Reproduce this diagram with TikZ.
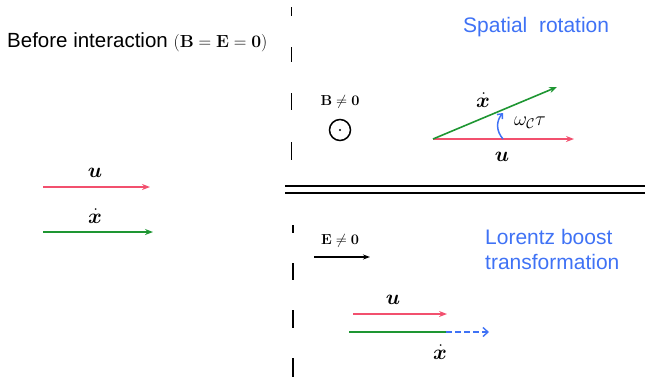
\RequirePackage{fix-cm}
\documentclass[tikz,border=0pt]{standalone}
\usepackage{amsmath,bm}
\usepackage[no-math]{fontspec}
\setmainfont{Liberation Sans}
\usetikzlibrary{arrows.meta}
\definecolor{vred}{HTML}{F2506E}
\definecolor{vgreen}{HTML}{1E9632}
\definecolor{vblue}{HTML}{3F72F5}
\tikzset{
  vec/.style={line width=1.6pt,-{Stealth[length=8pt,width=6pt]}},
  lbl/.style={inner sep=0pt,font=\fontsize{21}{24}\selectfont},
  ttl/.style={inner sep=0pt,anchor=west,text=vblue,font=\fontsize{21}{24}\selectfont},
  wall/.style={line width=1.8pt}
}
\begin{document}
\begin{tikzpicture}[x=1pt,y=-1pt]
\useasboundingbox (0,0) rectangle (645,381);
% texts
\node[inner sep=0pt,anchor=west,font=\fontsize{20.5}{23}\selectfont] (before) at (7,42) {Before interaction {\fontsize{17.5}{20}\selectfont$(\mathbf{B}=\mathbf{E}=\mathbf{0})$}};
\node[ttl] (spatial) at (463,27) {Spatial\ \ rotation};
\node[ttl] (lor1) at (485,237) {Lorentz boost};
\node[ttl] (lor2) at (485,262) {transformation};
% dashed wall
\foreach \a/\b in {7/16,47/62,93/110,142/160}
  \draw[wall] (291.5,\a) -- (291.5,\b);
\foreach \a/\b in {225/233,263/280,310/328,358/377}
  \draw[wall] (293,\a) -- (293,\b);
% double line
\coordinate (dl1) at (285,186);
\coordinate (dl2) at (645,186);
\coordinate (dl3) at (285,193);
\coordinate (dl4) at (645,193);
\draw[line width=1.6pt] (dl1) -- (dl2);
\draw[line width=1.6pt] (dl3) -- (dl4);
% left arrows
\coordinate (lu0) at (43,187); \coordinate (lu1) at (150,187);
\coordinate (lx0) at (43,232); \coordinate (lx1) at (153,232);
\draw[vec,vred] (lu0) -- (lu1);
\draw[vec,vgreen] (lx0) -- (lx1);
\node[lbl] (lul) at (95,173) {$\bm{u}$};
\node[lbl] (lxl) at (95,216) {$\dot{\bm{x}}$};
% B field
\node[inner sep=0pt,font=\fontsize{14.5}{17}\selectfont] (bne) at (340,102) {$\mathbf{B}\neq\mathbf{0}$};
\node[circle,draw,line width=1.5pt,minimum size=21pt,inner sep=0pt] (bdot) at (340,130) {};
\fill (bdot.center) circle (1.1pt);
% rotation
\coordinate (o) at (433,139);
\coordinate (ru) at (574,139);
\coordinate (rx) at (557,87);
\draw[vec,vred] (o) -- (ru);
\draw[vec,vgreen] (o) -- (rx);
\node[lbl] (rxl) at (483,100) {$\dot{\bm{x}}$};
\node[lbl] (rul) at (502,157) {$\bm{u}$};
\coordinate (a0) at (503,139);
\coordinate (a1) at (503,113);
\draw[vblue,line width=1.5pt,-{Straight Barb[length=4pt,width=7pt]}] (a0) .. controls (496,131) and (496,121) .. (a1);
\node[inner sep=0pt,font=\fontsize{20}{22}\selectfont] (wl) at (530,123) {$\omega_{\mathcal{C}}\tau$};
% E field
\node[inner sep=0pt,font=\fontsize{14.5}{17}\selectfont] (ene) at (340,241) {$\mathbf{E}\neq\mathbf{0}$};
\coordinate (e0) at (314,257); \coordinate (e1) at (370,257);
\draw[line width=1.4pt,-{Stealth[length=7pt,width=5pt]}] (e0) -- (e1);
% boost
\coordinate (bu0) at (353,314); \coordinate (bu1) at (447,314);
\coordinate (bx0) at (349,332); \coordinate (bx1) at (446,332);
\coordinate (bd1) at (489,332);
\draw[vec,vred] (bu0) -- (bu1);
\draw[vgreen,line width=1.6pt] (bx0) -- (bx1);
\draw[vblue,line width=1.4pt,dash pattern=on 6pt off 3pt,-{Straight Barb[length=5pt,width=9pt]}] (bx1) -- (bd1);
\node[lbl] (bul) at (393,300) {$\bm{u}$};
\node[lbl] (bxl) at (440,352) {$\dot{\bm{x}}$};
\end{tikzpicture}
\end{document}
